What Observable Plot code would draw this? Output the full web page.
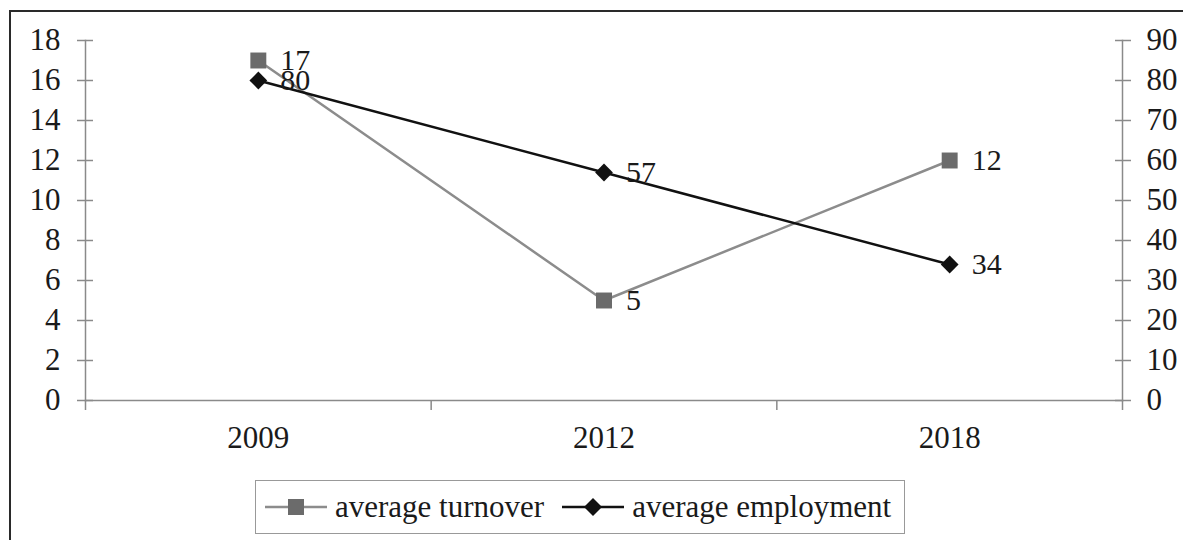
<!DOCTYPE html>
<html><head><meta charset="utf-8">
<script src="https://cdn.jsdelivr.net/npm/d3@7"></script>
<script src="https://cdn.jsdelivr.net/npm/@observablehq/plot@0.6"></script>
<style>
html,body{margin:0;padding:0;background:#fff;width:1183px;height:540px;overflow:hidden;font-family:"Liberation Serif","Times New Roman",serif;}
#frame{position:absolute;left:9px;top:10px;width:1200px;height:600px;border:2px solid #2a2a2a;box-sizing:border-box;}
#chart{position:absolute;left:0;top:0;}
#legend{position:absolute;left:255px;top:480px;width:650px;height:54px;border:1.5px solid #999;box-sizing:border-box;display:flex;align-items:center;padding-left:9px;font-size:31px;color:#1a1a1a;white-space:nowrap;}
#legend svg{flex:none;}
</style></head>
<body>
<div id="frame"></div>
<div id="chart"></div>
<div id="legend"></div>
<script>
const years = ["2009", "2012", "2018"];
const turnover = [17, 5, 12];
const employment = [80, 57, 34];
const leftTicks = [0, 2, 4, 6, 8, 10, 12, 14, 16, 18];
const rightTicks = [0, 10, 20, 30, 40, 50, 60, 70, 80, 90];
const seriesNames = ["average turnover", "average employment"];
const colors = {turnoverLine: "#8c8c8c", turnoverMark: "#6b6b6b", employment: "#111"};

const ratio = rightTicks[rightTicks.length - 1] / leftTicks[leftTicks.length - 1];
const data = years.map((year, i) => ({i: i + 0.5, year, turnover: turnover[i], employment: employment[i]}));
const boundaries = d3.range(years.length + 1);
const centers = years.map((_, i) => i + 0.5);
const axisColor = "#8a8a8a";
const fs = 31;

const chart = Plot.plot({
  width: 1183, height: 470,
  marginLeft: 85, marginRight: 61, marginTop: 40, marginBottom: 70,
  style: {fontFamily: "'Liberation Serif', 'Times New Roman', serif", fontSize: fs + "px", color: "#1a1a1a", background: "transparent", overflow: "visible"},
  x: {domain: [0, years.length], axis: null},
  y: {domain: [leftTicks[0], leftTicks[leftTicks.length - 1]], axis: null},
  marks: [
    Plot.frame({anchor: "left", stroke: axisColor, strokeWidth: 1.5}),
    Plot.frame({anchor: "right", stroke: axisColor, strokeWidth: 1.5}),
    Plot.frame({anchor: "bottom", stroke: axisColor, strokeWidth: 1.5}),
    Plot.axisY({ticks: leftTicks, tickSize: 16, dx: 8, fill: "none", stroke: axisColor, strokeWidth: 1.5, label: null}),
    Plot.axisY({ticks: leftTicks, tickSize: 0, tickPadding: 25, fill: "#1a1a1a", fontSize: fs, label: null}),
    Plot.axisY({anchor: "right", ticks: rightTicks.map(d => d / ratio), tickSize: 16, dx: -8, fill: "none", stroke: axisColor, strokeWidth: 1.5, label: null}),
    Plot.axisY({anchor: "right", ticks: rightTicks.map(d => d / ratio), tickFormat: d => String(Math.round(d * ratio)), tickSize: 0, tickPadding: 24, fill: "#1a1a1a", fontSize: fs, label: null}),
    Plot.axisX({ticks: boundaries, tickSize: 10, fill: "none", stroke: axisColor, strokeWidth: 1.5, label: null}),
    Plot.axisX({ticks: centers, tickFormat: d => years[Math.floor(d)], tickSize: 0, tickPadding: 25, fill: "#1a1a1a", fontSize: fs, label: null}),
    Plot.line(data, {x: "i", y: "turnover", stroke: colors.turnoverLine, strokeWidth: 2.5}),
    Plot.line(data, {x: "i", y: d => d.employment / ratio, stroke: colors.employment, strokeWidth: 2.5}),
    Plot.dot(data, {x: "i", y: "turnover", symbol: "square", r: 9, fill: colors.turnoverMark, stroke: "none"}),
    Plot.dot(data, {x: "i", y: d => d.employment / ratio, symbol: "diamond2", r: 8, fill: colors.employment, stroke: "none"}),
    Plot.text(data, {x: "i", y: "turnover", text: d => String(d.turnover), dx: 22, textAnchor: "start", fontSize: 30, fill: "#1a1a1a"}),
    Plot.text(data, {x: "i", y: d => d.employment / ratio, text: d => String(d.employment), dx: 22, textAnchor: "start", fontSize: 30, fill: "#1a1a1a"})
  ]
});
document.getElementById("chart").appendChild(chart);

// legend
const legend = document.getElementById("legend");
const samples = [
  `<svg width="62" height="24"><line x1="0" y1="12" x2="62" y2="12" stroke="${colors.turnoverLine}" stroke-width="2.5"/><rect x="23" y="4" width="16" height="16" fill="${colors.turnoverMark}"/></svg>`,
  `<svg width="62" height="24"><line x1="0" y1="12" x2="62" y2="12" stroke="${colors.employment}" stroke-width="2.5"/><path d="M31,3L40,12L31,21L22,12Z" fill="${colors.employment}"/></svg>`
];
seriesNames.forEach((name, k) => {
  const wrap = document.createElement("span");
  wrap.style.display = "flex";
  wrap.style.alignItems = "center";
  wrap.style.marginRight = k === 0 ? "18px" : "0";
  wrap.innerHTML = samples[k] + `<span style="margin-left:8px">${name}</span>`;
  legend.appendChild(wrap);
});
</script>
</body></html>
